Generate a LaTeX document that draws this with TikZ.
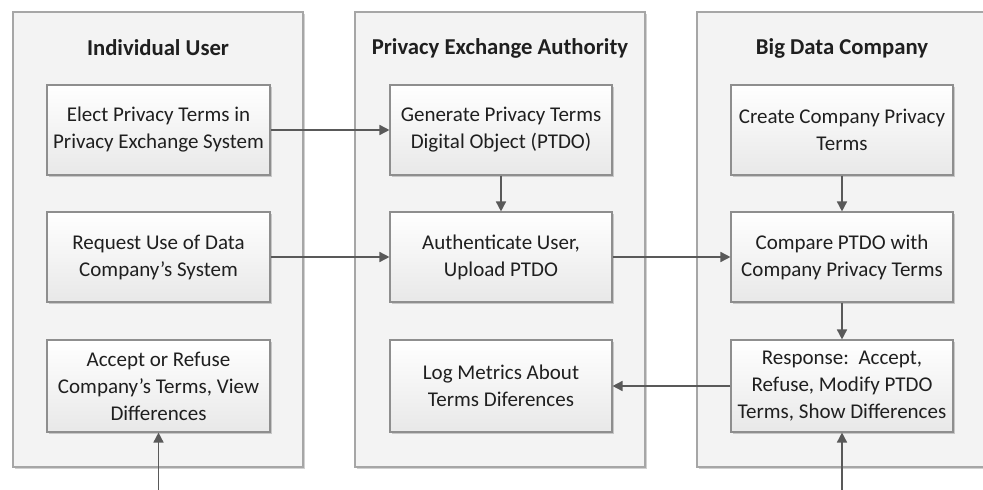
\documentclass[tikz,border=0pt]{standalone}
\usepackage{fontspec}
\setmainfont{Carlito}
\usetikzlibrary{arrows.meta,shadows}
\definecolor{panelfill}{HTML}{F3F3F3}
\definecolor{panelline}{HTML}{A6A6A6}
\definecolor{boxline}{HTML}{8E8E8E}
\definecolor{arrowc}{HTML}{595959}
\definecolor{txt}{HTML}{1F1F1F}
\begin{document}
\begin{tikzpicture}[x=1pt,y=-1pt,
  panel/.style={draw=panelline,fill=panelfill,line width=1.2pt,minimum width=290pt,minimum height=455pt,inner sep=0pt,
    drop shadow={shadow xshift=1.5pt,shadow yshift=-1.5pt,fill=black,opacity=0.18}},
  ptitle/.style={font=\fontsize{22.7}{27}\selectfont\bfseries,text=txt,inner sep=0pt},
  stepbox/.style={draw=boxline,line width=1.1pt,top color=white,bottom color=black!9,minimum width=223pt,minimum height=90pt,
    align=center,inner sep=2pt,font=\fontsize{21}{27}\selectfont,text=txt,
    drop shadow={shadow xshift=1.5pt,shadow yshift=-1.5pt,fill=black,opacity=0.18}},
  conn/.style={draw=arrowc,line width=1.6pt,-{Triangle[length=10pt,width=10pt]}}]
\useasboundingbox (0,0) rectangle (983,490);
\clip (0,0) rectangle (983,490);
\fill[white] (0,0) rectangle (983,490);
% panels
\node[panel] (p1) at (158,239.5) {};
\node[panel] (p2) at (500,239.5) {};
\node[panel] (p3) at (842,239.5) {};
\node[ptitle] (t1) at (158,48) {Individual User};
\node[ptitle] (t2) at (500,48) {Privacy Exchange Authority};
\node[ptitle] (t3) at (842,48) {Big Data Company};
% boxes
\node[stepbox] (elect) at (158.5,130) {Elect Privacy Terms in\\Privacy Exchange System};
\node[stepbox] (request) at (158.5,257) {Request Use of Data\\Company’s System};
\node[stepbox,minimum height=92pt] (accept) at (158.5,386) {Accept or Refuse\\Company’s Terms, View\\Differences};
\node[stepbox,minimum width=222pt] (gen) at (501,130) {Generate Privacy Terms\\Digital Object (PTDO)};
\node[stepbox,minimum width=222pt] (auth) at (501,257) {Authenticate User,\\Upload PTDO};
\node[stepbox,minimum width=222pt,minimum height=92pt] (log) at (501,386) {Log Metrics About\\Terms Diferences};
\node[stepbox,minimum width=222pt] (create) at (842,130) {Create Company Privacy\\Terms};
\node[stepbox,minimum width=222pt] (compare) at (842,257) {Compare PTDO with\\Company Privacy Terms};
\node[stepbox,minimum width=222pt,minimum height=92pt] (resp) at (842,386) {Response:\ \ Accept,\\Refuse, Modify PTDO\\Terms, Show Differences};
% connectors
\draw[conn] (elect.east) -- (gen.west);
\draw[conn] (request.east) -- (auth.west);
\draw[conn] (gen.south) -- (auth.north);
\draw[conn] (auth.east) -- (compare.west);
\draw[conn] (create.south) -- (compare.north);
\draw[conn] (compare.south) -- (resp.north);
\draw[conn] (resp.west) -- (log.east);
\coordinate (in1) at (158.5,495);
\coordinate (in2) at (842,495);
\draw[conn] (in1) -- (accept.south);
\draw[conn] (in2) -- (resp.south);
\end{tikzpicture}
\end{document}
